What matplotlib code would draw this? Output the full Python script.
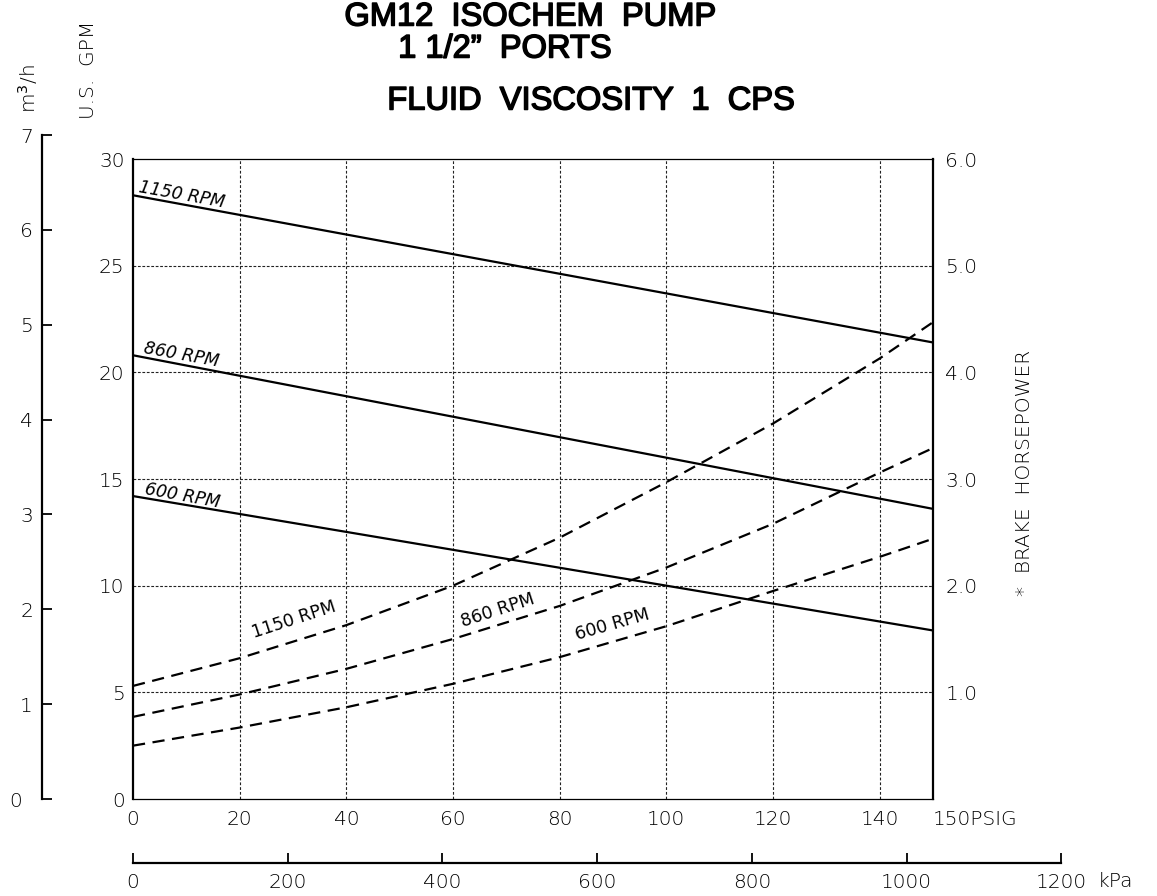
import matplotlib
matplotlib.use("Agg")
import matplotlib.pyplot as plt
import matplotlib.patheffects as pe
from matplotlib.transforms import ScaledTranslation

plt.rcParams['font.family'] = ['DejaVu Sans']
plt.rcParams['mathtext.fontset'] = 'dejavusans'

# ---------------- data ----------------
psi_solid = [0, 150]
gpm_1150 = [28.3, 21.4]
gpm_860 = [20.8, 13.6]
gpm_600 = [14.2, 7.9]

psi_hp = [0, 20, 40, 60, 80, 100, 120, 140, 150]
hp_1150 = [1.06, 1.32, 1.63, 2.00, 2.45, 2.97, 3.52, 4.13, 4.47]
hp_860 = [0.77, 0.98, 1.22, 1.50, 1.81, 2.17, 2.58, 3.06, 3.29]
hp_600 = [0.50, 0.67, 0.86, 1.08, 1.33, 1.62, 1.95, 2.27, 2.44]

psi_ticks = [0, 20, 40, 60, 80, 100, 120, 140, 150]
psi_labels = ['0', '20', '40', '60', '80', '100', '120', '140', '150PSIG']
gpm_ticks = [0, 5, 10, 15, 20, 25, 30]
hp_ticks = [1, 2, 3, 4, 5, 6]
hp_labels = ['1.0', '2.0', '3.0', '4.0', '5.0', '6.0']
m3h_ticks = [0, 1, 2, 3, 4, 5, 6, 7]
kpa_ticks = [0, 200, 400, 600, 800, 1000, 1200]

title_lines = ['GM12  ISOCHEM  PUMP', '1 1/2\u201d  PORTS', 'FLUID  VISCOSITY  1  CPS']

# ---------------- figure ----------------
W, H = 1157, 896
fig = plt.figure(figsize=(W / 100, H / 100), dpi=100)

def fx(px):
    return px / W

def fy(py):
    return 1 - py / H

tick_font = dict(family='DejaVu Sans', weight='light', size=14.5)

# main axes: x 133..933 px, y 159..799 px
ax = fig.add_axes([fx(133), fy(799), fx(933) - fx(133), fy(159) - fy(799)])
ax.set_xlim(0, 150)
ax.set_ylim(0, 30)

# grid
for g in [20, 40, 60, 80, 100, 120, 140]:
    ax.axvline(g, color='#222222', lw=0.8, ls=(0, (2.5, 1.8)), zorder=1)
for g in [5, 10, 15, 20, 25]:
    ax.axhline(g, color='#222222', lw=0.8, ls=(0, (2.5, 1.5)), zorder=1)

# capacity lines
for y in (gpm_1150, gpm_860, gpm_600):
    ax.plot(psi_solid, y, color='black', lw=1.6, solid_capstyle='butt', zorder=3)

ax.set_xticks(psi_ticks)
ax.set_xticklabels(psi_labels, fontdict=tick_font)
ax.xaxis.get_ticklabels()[-1].set_horizontalalignment('left')
ax.set_yticks(gpm_ticks)
ax.set_yticklabels([str(v) for v in gpm_ticks], fontdict=tick_font)
ax.tick_params(axis='both', length=0)
ax.tick_params(axis='x', pad=8)
ax.tick_params(axis='y', pad=6)
ax.spines['left'].set_linewidth(1.6)
ax.spines['right'].set_linewidth(1.6)
ax.spines['top'].set_linewidth(0.9)
ax.spines['bottom'].set_linewidth(0.9)

# horsepower axis on the right
ax2 = ax.twinx()
ax2.set_ylim(0, 6)
for y in (hp_1150, hp_860, hp_600):
    ax2.plot(psi_hp, y, color='black', lw=1.6, ls=(0, (5.5, 3.4)), zorder=3)
ax2.set_yticks(hp_ticks)
ax2.set_yticklabels(hp_labels, fontdict=tick_font)
ax2.tick_params(axis='y', length=0, pad=9)
for s in ax2.spines.values():
    s.set_visible(False)

# curve labels
lab_solid = dict(family='DejaVu Sans', style='italic', size=12.5,
                 rotation=-10.3, rotation_mode='anchor', ha='left', va='baseline')
ax.text(1.0, 28.45, '1150 RPM', **lab_solid)
ax.text(1.8, 20.9, '860 RPM', **lab_solid)
ax.text(2.0, 14.3, '600 RPM', **lab_solid)

lab_dash = dict(family='DejaVu Sans', size=12.5, rotation_mode='anchor',
                ha='left', va='baseline')
ax.text(22.7, 7.55, '1150 RPM', rotation=18, **lab_dash)
ax.text(61.8, 8.05, '860 RPM', rotation=18, **lab_dash)
ax.text(83.3, 7.45, '600 RPM', rotation=16, **lab_dash)

# m3/h axis (far left)
axm = fig.add_axes([fx(42), fy(799), 0.002, fy(135) - fy(799)])
axm.set_ylim(0, 7)
axm.set_xticks([])
for k in ('top', 'right', 'bottom'):
    axm.spines[k].set_visible(False)
axm.spines['left'].set_linewidth(1.6)
axm.patch.set_visible(False)
axm.set_yticks(m3h_ticks)
axm.set_yticklabels([str(v) for v in m3h_ticks], fontdict=tick_font)
axm.tick_params(axis='y', direction='in', length=7.5, width=1.3, pad=6.5)
lbl0 = axm.yaxis.get_ticklabels()[0]
lbl0.set_transform(lbl0.get_transform() + ScaledTranslation(-11 / 100, 0, fig.dpi_scale_trans))

# kPa axis (bottom)
axk = fig.add_axes([fx(133), fy(863), (928.2) / W, 0.002])
axk.set_xlim(0, 1200)
axk.set_yticks([])
for k in ('top', 'right', 'left'):
    axk.spines[k].set_visible(False)
axk.spines['bottom'].set_linewidth(1.6)
axk.patch.set_visible(False)
axk.set_xticks(kpa_ticks)
axk.set_xticklabels([str(v) for v in kpa_ticks], fontdict=tick_font)
axk.tick_params(axis='x', direction='in', length=7.5, width=1.3, pad=7)
axk.annotate('kPa', xy=(1200, 0), xycoords='data', xytext=(26, -13.5),
             textcoords='offset points', ha='left', va='center', **tick_font)

# axis titles
fig.text(fx(89), fy(70), 'U.S.  GPM', rotation=90, ha='center', va='center', **tick_font)
fig.text(fx(28), fy(89), r'm$^{3}$/h', rotation=90, ha='center', va='center', **tick_font)
fig.text(fx(1024), fy(473), '*  BRAKE  HORSEPOWER', rotation=90, ha='center', va='center', **tick_font)

# titles
tstyle = dict(family='Liberation Sans', size=23.5, ha='center', va='center',
              path_effects=[pe.withStroke(linewidth=1.1, foreground='black')])
fig.text(fx(530), fy(17), title_lines[0], **tstyle)
fig.text(fx(505), fy(49), title_lines[1], **tstyle)
fig.text(fx(591), fy(101), title_lines[2], **tstyle)

fig.savefig('out.png', dpi=100, facecolor='white')
